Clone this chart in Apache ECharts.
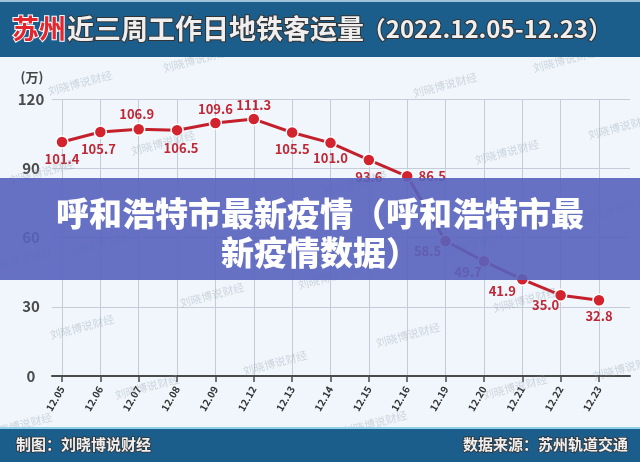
<!DOCTYPE html>
<html>
<head>
<meta charset="utf-8">
<script src="https://cdn.jsdelivr.net/npm/echarts@6/dist/echarts.min.js"></script>
<style>
  html, body { margin: 0; padding: 0; background: #f0f6fb; }
  #chart { width: 640px; height: 462px; }
</style>
</head>
<body>
<div id="chart"></div>
<script>
// 数据
var dates = ['12.05', '12.06', '12.07', '12.08', '12.09', '12.12', '12.13', '12.14',
  '12.15', '12.16', '12.19', '12.20', '12.21', '12.22', '12.23'];
var riders = [101.4, 105.7, 106.9, 106.5, 109.6, 111.3, 105.5, 101.0,
  93.6, 86.5, 58.5, 49.7, 41.9, 35.0, 32.8];
var yTicks = [0, 30, 60, 90, 120];

// 标签相对点的偏移
var labelOffsets = [[0, 17], [-2, 17], [-2, -15], [4, 18], [0, -14], [0, -14], [0, 17], [0, 15],
  [0, 17], [25, 0], [-18, 10], [-16, 11], [-20, 12], [-15, 10], [0, 16]];

var FONT = '"Noto Sans CJK SC", sans-serif';

var seriesData = riders.map(function (v, i) {
  return { value: v, label: { offset: labelOffsets[i] } };
});

// 水印
var marks = [[80, 83], [195, 60], [565, 60], [163, 143], [445, 85], [507, 152], [620, 127],
  [42, 172], [106, 242], [355, 183], [478, 243], [615, 210], [20, 260], [330, 277],
  [212, 295], [82, 327], [408, 335], [275, 363], [525, 300], [625, 368], [147, 387],
  [515, 387], [20, 425], [375, 423]];
var markEls = marks.map(function (p) {
  return {
    type: 'text', x: p[0], y: p[1], rotation: 0.26, z: 50,
    style: {
      text: '刘晓博说财经', font: '11px ' + FONT, fill: 'rgba(140,152,170,0.35)',
      align: 'center', verticalAlign: 'middle'
    }
  };
});

var myChart = echarts.init(document.getElementById('chart'));

var option = {
  backgroundColor: '#f0f6fb',
  animation: false,
  grid: [
    { left: 52, right: 10, top: 99, bottom: 86 },
    { left: 62, right: 41, top: 99, bottom: 86 }
  ],
  xAxis: [
    {
      gridIndex: 0, type: 'value', min: 0, max: 1,
      axisLine: { show: true, lineStyle: { color: '#4a4a4a', width: 2 } },
      axisTick: { show: false }, axisLabel: { show: false }, splitLine: { show: false }
    },
    {
      gridIndex: 1, type: 'category', boundaryGap: false, data: dates,
      axisLine: { show: false },
      axisTick: { show: true, length: 6, lineStyle: { color: '#4a4a4a', width: 1.5 } },
      axisLabel: {
        rotate: 60, margin: 11, fontSize: 10, fontWeight: 'bold',
        color: '#333', fontFamily: FONT
      },
      splitLine: { show: true, lineStyle: { color: '#c3ccd8', width: 1 } }
    }
  ],
  yAxis: [
    {
      gridIndex: 0, type: 'value', min: yTicks[0], max: yTicks[yTicks.length - 1], interval: 30,
      axisLine: { show: false }, axisTick: { show: false },
      axisLabel: {
        margin: 21, align: 'center', fontSize: 15, fontWeight: 'bold', color: '#4a4a4a', fontFamily: FONT,
        formatter: function (v) { return yTicks.indexOf(v) >= 0 ? v : ''; }
      },
      splitLine: { lineStyle: { color: '#c3ccd8', width: 1 } }
    },
    {
      gridIndex: 1, type: 'value', min: 0, max: 120, show: false
    }
  ],
  series: [
    {
      type: 'line', xAxisIndex: 1, yAxisIndex: 1, data: seriesData,
      z: 10,
      symbol: 'circle', symbolSize: 12,
      lineStyle: { color: '#c4202c', width: 3 },
      itemStyle: { color: '#d3232e', borderColor: '#ffffff', borderWidth: 1.5 },
      label: {
        show: true, position: 'inside', fontSize: 13, fontWeight: 'bold',
        color: '#c02634', fontFamily: FONT,
        formatter: function (p) { return p.value.toFixed(1); }
      }
    }
  ],
  graphic: markEls.concat([
    // 顶部
    { type: 'rect', shape: { x: 0, y: 0, width: 640, height: 57 }, style: { fill: '#1b5d8b' }, z: 60 },
    { type: 'rect', shape: { x: 0, y: 0, width: 640, height: 2 }, style: { fill: '#9fc3d8' }, z: 61 },
    {
      type: 'text', x: 12, y: 29, z: 62,
      style: {
        text: '苏州', font: 'bold 27px ' + FONT, fill: '#e3252d',
        stroke: '#ffffff', lineWidth: 2, verticalAlign: 'middle'
      }
    },
    {
      type: 'text', x: 67, y: 29, z: 62,
      style: {
        text: '近三周工作日地铁客运量', font: 'bold 27px ' + FONT,
        fill: '#efefef', stroke: '#333333', lineWidth: 2, verticalAlign: 'middle'
      }
    },
    {
      type: 'text', x: 612, y: 29, z: 62,
      style: {
        text: '（2022.12.05-12.23）', font: 'bold 24px ' + FONT,
        fill: '#efefef', stroke: '#333333', lineWidth: 2, align: 'right', verticalAlign: 'middle'
      }
    },
    {
      type: 'text', x: 32, y: 77, z: 62,
      style: { text: '(万)', font: 'bold 13px ' + FONT, fill: '#444', align: 'center', verticalAlign: 'middle' }
    },
    // 底部
    { type: 'rect', shape: { x: 0, y: 427, width: 640, height: 35 }, style: { fill: '#1b5d8b' }, z: 60 },
    { type: 'rect', shape: { x: 0, y: 427, width: 640, height: 2 }, style: { fill: '#8fd0e6' }, z: 61 },
    {
      type: 'text', x: 16, y: 444, z: 62,
      style: {
        text: '制图：刘晓博说财经', font: 'bold 15px ' + FONT, fill: '#f0f0f0',
        stroke: '#333', lineWidth: 1.5, verticalAlign: 'middle'
      }
    },
    {
      type: 'text', x: 628, y: 444, z: 62,
      style: {
        text: '数据来源：苏州轨道交通', font: 'bold 15px ' + FONT, fill: '#f0f0f0',
        stroke: '#333', lineWidth: 1.5, align: 'right', verticalAlign: 'middle'
      }
    },
    // 遮罩标题
    { type: 'rect', shape: { x: 0, y: 178, width: 640, height: 102 }, style: { fill: 'rgba(86,99,190,0.9)' }, z: 70 },
    {
      type: 'text', x: 320, y: 213, z: 71,
      style: {
        text: '呼和浩特市最新疫情（呼和浩特市最', font: '900 33px ' + FONT, fill: '#ffffff',
        align: 'center', verticalAlign: 'middle'
      }
    },
    {
      type: 'text', x: 320, y: 252, z: 71,
      style: {
        text: '新疫情数据）', font: '900 33px ' + FONT, fill: '#ffffff',
        align: 'center', verticalAlign: 'middle'
      }
    }
  ])
};

myChart.setOption(option);

window.addEventListener('resize', function () {
  myChart.resize();
});
</script>
</body>
</html>
